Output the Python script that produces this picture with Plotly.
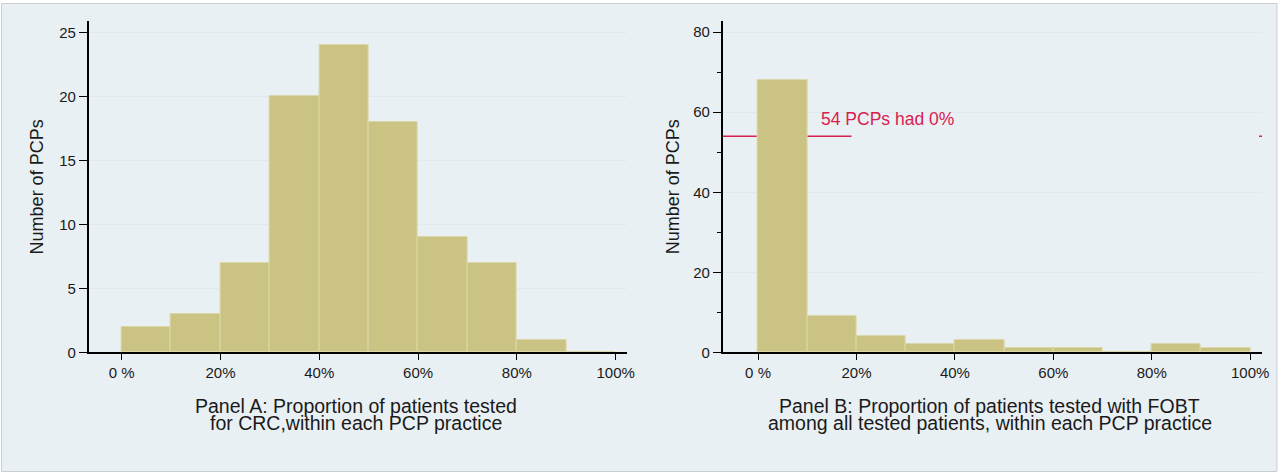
import plotly.graph_objects as go

# ---------------- data ----------------
bin_left_pct = [0, 10, 20, 30, 40, 50, 60, 70, 80, 90]
bin_width_pct = 10
panel_a_counts = [2, 3, 7, 20, 24, 18, 9, 7, 1, 0]
panel_b_counts = [68, 9, 4, 2, 3, 1, 1, 0, 2, 1]
x_tick_vals = [0, 20, 40, 60, 80, 100]
x_tick_text = ["0 %", "20%", "40%", "60%", "80%", "100%"]
a_y_ticks = [0, 5, 10, 15, 20, 25]
b_y_ticks = [0, 20, 40, 60, 80]
zero_pct_pcps = 54
zero_label = "54 PCPs had 0%"
y_title = "Number of PCPs"
a_title = ["Panel A: Proportion of patients tested", "for CRC,within each PCP practice"]
b_title = ["Panel B: Proportion of patients tested with FOBT",
           "among all tested patients, within each PCP practice"]

# ---------------- layout helpers ----------------
W, H = 1278, 473
def px(x):
    return x / W
def py(y):
    return 1 - y / H

BAR = "#cbc383"
BAR_EDGE = "#dcd7a6"
BG = "#e9f0f3"
GRID = "#dfe9ef"
TXT = "#1a1a1a"
RED = "#d8204f"
FONT = "Liberation Sans, Arial, sans-serif"

centers = [l + bin_width_pct / 2 for l in bin_left_pct]

fig = go.Figure()
fig.add_trace(go.Bar(x=centers, y=panel_a_counts, width=bin_width_pct,
                     marker=dict(color=BAR, line=dict(color=BAR_EDGE, width=1)),
                     xaxis="x", yaxis="y", showlegend=False))
fig.add_trace(go.Bar(x=centers, y=panel_b_counts, width=bin_width_pct,
                     marker=dict(color=BAR, line=dict(color=BAR_EDGE, width=1)),
                     xaxis="x2", yaxis="y2", showlegend=False))

a_xrange = [-6.7, 102.2]
b_xrange = [-7.2, 102.4]
ydom = [py(352.3), py(21)]

common_x = dict(tickvals=x_tick_vals, ticktext=x_tick_text, showgrid=False,
                zeroline=False, showline=True, linecolor="black", linewidth=1.5,
                ticks="outside", ticklen=6, tickcolor="black", tickwidth=1,
                tickfont=dict(family=FONT, size=15, color=TXT), fixedrange=True,
                automargin=False)
common_y = dict(showgrid=True, gridcolor=GRID, gridwidth=1, zeroline=False,
                showline=True, linecolor="black", linewidth=1.5,
                ticks="outside", ticklen=8, tickcolor="black", tickwidth=1,
                tickfont=dict(family=FONT, size=15, color=TXT), fixedrange=True,
                automargin=False)

fig.update_layout(
    width=W, height=H,
    margin=dict(l=0, r=0, t=0, b=0, pad=0),
    paper_bgcolor="white",
    plot_bgcolor="white",
    bargap=0,
    xaxis=dict(domain=[px(88.6), px(626.5)], range=a_xrange, anchor="y", **common_x),
    yaxis=dict(domain=ydom, range=[0, 25.88], anchor="x", tickvals=a_y_ticks, **common_y),
    xaxis2=dict(domain=[px(722.6), px(1262)], range=b_xrange, anchor="y2", **common_x),
    yaxis2=dict(domain=ydom, range=[0, 82.8], anchor="x2", tickvals=b_y_ticks,
                minor=dict(tickvals=[10, 30, 50, 70], ticks="outside", ticklen=4,
                           tickcolor="black", showgrid=False),
                **common_y),
)

shapes = [
    # outer frame / background
    dict(type="rect", xref="paper", yref="paper", x0=px(1.5), x1=px(1277), y0=py(471.5), y1=py(3.5),
         fillcolor=BG, line=dict(color="#c9cdcf", width=1), layer="below"),
    # red reference line in panel B (hidden behind the first bar)
    dict(type="line", xref="x2", yref="y2", x0=b_xrange[0], x1=19, y0=zero_pct_pcps, y1=zero_pct_pcps,
         line=dict(color=RED, width=1.5), layer="below"),
    dict(type="line", xref="x2", yref="y2", x0=101.8, x1=b_xrange[1], y0=zero_pct_pcps, y1=zero_pct_pcps,
         line=dict(color=RED, width=1.5), layer="below"),
]
fig.update_layout(shapes=shapes)

ann = []
ann.append(dict(text=zero_label, x=12.3, y=58.3, xref="x2", yref="y2", xanchor="left",
                yanchor="middle", showarrow=False, font=dict(family=FONT, size=17.5, color=RED)))
for xc in (36.7, 672.5):
    ann.append(dict(text=y_title, x=px(xc), y=py(186.7), xref="paper", yref="paper",
                    textangle=-90, showarrow=False, xanchor="center", yanchor="middle",
                    font=dict(family=FONT, size=18, color=TXT)))
for xc, lines in ((355.5, a_title), (989.5, b_title)):
    for yc, line in zip((405.5, 422.5), lines):
        ann.append(dict(text=line, x=px(xc), y=py(yc), xref="paper", yref="paper",
                        showarrow=False, xanchor="center", yanchor="middle",
                        font=dict(family=FONT, size=19.5, color=TXT)))
fig.update_layout(annotations=ann)

fig.write_html("out.html", config={"displayModeBar": False},
               post_script="document.body.style.margin='0px';document.body.style.overflow='hidden';")
